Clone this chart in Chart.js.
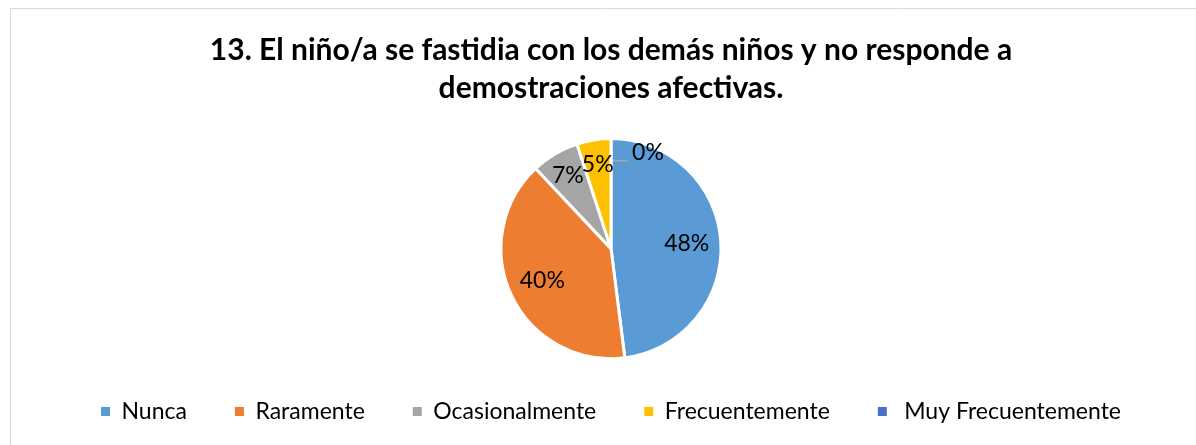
<!DOCTYPE html>
<html>
<head>
<meta charset="utf-8">
<script src="https://cdn.jsdelivr.net/npm/chart.js@4"></script>
<style>
  html, body { margin: 0; padding: 0; background: #fff; }
  #wrap { width: 1196px; height: 445px; }
</style>
</head>
<body>
<div id="wrap"><canvas id="pieChart" width="1196" height="445"></canvas></div>
<script>
// chart data
const titleLines = ['13. El niño/a se fastidia con los demás niños y no responde a', 'demostraciones afectivas.'];
const categories = ['Nunca', 'Raramente', 'Ocasionalmente', 'Frecuentemente', ' Muy Frecuentemente'];
const percentages = [48, 40, 7, 5, 0];
const sliceColors = ['#5B9BD5', '#ED7D31', '#A5A5A5', '#FFC000', '#4472C4'];

const FONT = 'Lato, "Open Sans", sans-serif';

// grey frame around the chart, like the Excel chart border
const framePlugin = {
    id: 'frame',
    beforeDraw(chart) {
        const ctx = chart.ctx;
        ctx.save();
        ctx.strokeStyle = '#d9d9d9';
        ctx.lineWidth = 1;
        ctx.beginPath();
        ctx.moveTo(10.5, chart.height + 2);
        ctx.lineTo(10.5, 8.5);
        ctx.lineTo(chart.width + 2, 8.5);
        ctx.stroke();
        ctx.restore();
    }
};

// percentage labels on the slices (no datalabels plugin available)
const sliceLabels = {
    id: 'sliceLabels',
    afterDatasetsDraw(chart) {
        const ctx = chart.ctx;
        const meta = chart.getDatasetMeta(0);
        ctx.save();
        ctx.font = '23px ' + FONT;
        ctx.fillStyle = '#000';
        ctx.textAlign = 'center';
        ctx.textBaseline = 'middle';
        meta.data.forEach((arc, i) => {
            const p = arc.getProps(['x', 'y', 'startAngle', 'endAngle', 'outerRadius']);
            const value = percentages[i];
            const R = p.outerRadius;
            if (value === 0) {
                // tiny slice: label outside with a short leader line
                ctx.strokeStyle = '#a6a6a6';
                ctx.lineWidth = 1.5;
                ctx.beginPath();
                ctx.moveTo(p.x + 2, p.y - 0.8 * R);
                ctx.lineTo(p.x + 17, p.y - 0.8 * R);
                ctx.stroke();
                ctx.fillText(value + '%', p.x + 37, p.y - 0.87 * R);
                return;
            }
            const mid = (p.startAngle + p.endAngle) / 2;
            const r = value < 10 ? 0.77 * R : 0.69 * R;
            ctx.fillText(value + '%', p.x + Math.cos(mid) * r, p.y + Math.sin(mid) * r);
        });
        ctx.restore();
    }
};

const ctx = document.getElementById('pieChart').getContext('2d');
const pieChart = new Chart(ctx, {
    type: 'pie',
    data: {
        labels: categories,
        datasets: [{
            data: percentages,
            backgroundColor: sliceColors,
            borderColor: '#ffffff',
            borderWidth: 3,
            radius: 110
        }]
    },
    options: {
        responsive: false,
        animation: false,
        layout: {
            padding: { left: 26, right: 0, top: 0, bottom: 12 }
        },
        plugins: {
            title: {
                display: true,
                text: titleLines,
                color: '#000',
                font: { family: FONT, size: 30, weight: 'bold', lineHeight: 1.27 },
                padding: { top: 31, bottom: 38 }
            },
            legend: {
                position: 'bottom',
                labels: {
                    color: '#000',
                    font: { family: FONT, size: 23 },
                    boxWidth: 9,
                    boxHeight: 9,
                    padding: 48,
                    // plain squares, without the white slice border
                    generateLabels(chart) {
                        const items = Chart.overrides.pie.plugins.legend.labels.generateLabels(chart);
                        items.forEach(item => { item.lineWidth = 0; });
                        return items;
                    }
                }
            },
            tooltip: { enabled: false }
        }
    },
    plugins: [framePlugin, sliceLabels]
});
</script>
</body>
</html>
